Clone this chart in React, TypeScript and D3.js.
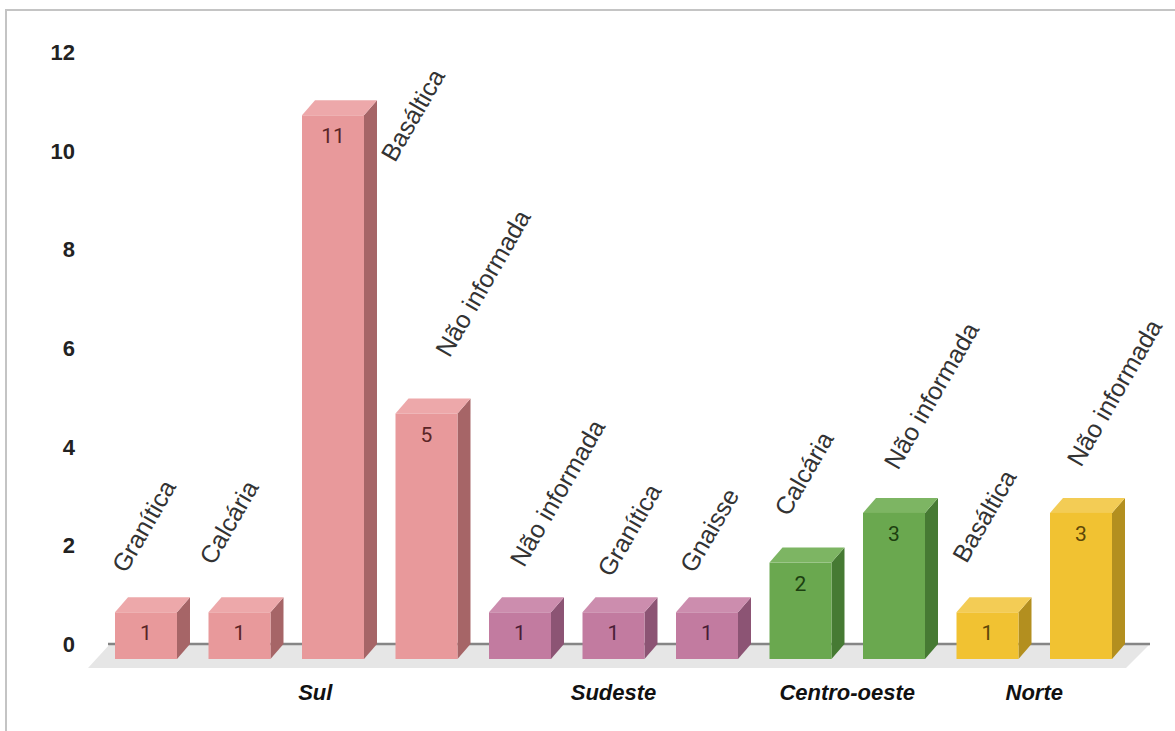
import React from "react";
import * as d3 from "d3";

// ---- data ----
const regions = ["Sul", "Sudeste", "Centro-oeste", "Norte"];
const categories = [
  "Granítica", "Calcária", "Basáltica", "Não informada",
  "Não informada", "Granítica", "Gnaisse",
  "Calcária", "Não informada",
  "Basáltica", "Não informada",
];
const barRegion = [0, 0, 0, 0, 1, 1, 1, 2, 2, 3, 3];
const values = [1, 1, 11, 5, 1, 1, 1, 2, 3, 1, 3];
const yTicks = [0, 2, 4, 6, 8, 10, 12];

// ---- layout / style (not data) ----
const W = 1175;
const H = 731;
const DX = 13;
const DY = 15;
const palette = [
  { front: "#E8999B", side: "#A66567", top: "#EDA8AA", text: "#5a2527" },
  { front: "#C27BA0", side: "#8C5474", top: "#CC8DAE", text: "#4a1d36" },
  { front: "#6AA84F", side: "#467A33", top: "#7DB563", text: "#1c3f10" },
  { front: "#F1C232", side: "#B38F1F", top: "#F3CC55", text: "#5e4708" },
];
// manual nudges of the rotated category labels (relative to bar front-left / front-top)
const labelNudge: [number, number][] = [
  [11, -38], [5, -46], [93, 48], [54, -55],
  [35, -44], [29, -34], [18, -38],
  [19, -45], [35, -42],
  [10, -48], [31, -45],
];
const regionNudge = [29, 0, 0, 0];

export default function App() {
  const idx = values.map((_, i) => i);
  const x = d3.scaleBand<number>().domain(idx).range([115, 1112]).paddingInner(0.337).paddingOuter(0);
  const y = d3.scaleLinear().domain([0, 12]).range([662, 662 - 12 * 49.7]);
  const yTick = d3.scaleLinear().domain([0, 12]).range([644, 52]);
  const bw = x.bandwidth();
  const baseFront = 659;
  const backY = 644;

  const regionCenters = regions.map((_, r) => {
    const bars = idx.filter((i) => barRegion[i] === r);
    const c = d3.mean(bars, (i) => (x(i) as number) + bw / 2) as number;
    return c + regionNudge[r];
  });

  const sans = "'Liberation Sans', Arial, sans-serif";

  return (
    <svg width={W} height={H} style={{ position: "absolute", left: 0, top: 0, background: "#fff" }}>
      <rect x={6} y={10} width={1300} height={900} fill="#fff" stroke="#c4c4c4" strokeWidth={2} />

      {/* y axis tick labels */}
      {yTicks.map((t) => (
        <text
          key={t}
          x={75}
          y={yTick(t)}
          dy="0.36em"
          textAnchor="end"
          fontFamily={sans}
          fontWeight="bold"
          fontSize={22}
          fill="#222"
        >
          {t}
        </text>
      ))}

      {/* floor */}
      <polygon points={`110,${backY} 1150,${backY} 1126,668 88,668`} fill="#e6e6e6" />
      <line x1={108} x2={1150} y1={backY} y2={backY} stroke="#858585" strokeWidth={2.5} />

      {/* bars */}
      {idx.map((i) => {
        const x0 = x(i) as number;
        const top = y(values[i]);
        const c = palette[barRegion[i]];
        return (
          <g key={i}>
            <polygon
              points={`${x0 + bw},${top} ${x0 + bw + DX},${top - DY} ${x0 + bw + DX},${baseFront - DY} ${x0 + bw},${baseFront}`}
              fill={c.side}
            />
            <polygon
              points={`${x0},${top} ${x0 + DX},${top - DY} ${x0 + bw + DX},${top - DY} ${x0 + bw},${top}`}
              fill={c.top}
            />
            <rect x={x0} y={top} width={bw} height={baseFront - top} fill={c.front} />
            <text
              x={x0 + bw / 2}
              y={top + 28}
              textAnchor="middle"
              fontFamily="Roboto, sans-serif"
              fontSize={21}
              fill={c.text}
            >
              {values[i]}
            </text>
          </g>
        );
      })}

      {/* rotated category labels */}
      {idx.map((i) => {
        const x0 = (x(i) as number) + labelNudge[i][0];
        const y0 = y(values[i]) + labelNudge[i][1];
        return (
          <text
            key={"l" + i}
            transform={`translate(${x0},${y0}) rotate(-60)`}
            fontFamily={sans}
            fontSize={25}
            fill="#333"
          >
            {categories[i]}
          </text>
        );
      })}

      {/* region labels */}
      {regions.map((r, k) => (
        <text
          key={r}
          x={regionCenters[k]}
          y={700}
          textAnchor="middle"
          fontFamily={sans}
          fontWeight="bold"
          fontStyle="italic"
          fontSize={22}
          fill="#111"
        >
          {r}
        </text>
      ))}
    </svg>
  );
}
